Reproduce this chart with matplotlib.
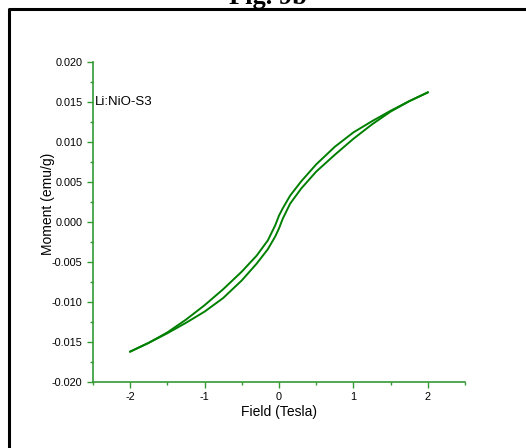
import numpy as np
import matplotlib.pyplot as plt
from matplotlib.lines import Line2D
from matplotlib.ticker import MultipleLocator

plt.rcParams['font.family'] = ['Liberation Sans', 'DejaVu Sans']

# descending branch (from +2 T down to -2 T)
field_down = [2.0, 1.75, 1.5, 1.25, 1.0, 0.75, 0.5, 0.3, 0.15, 0.05, 0.0,
              -0.05, -0.15, -0.3, -0.5, -0.75, -1.0, -1.25, -1.5, -1.75, -2.0]
moment_down = [0.0162, 0.0151, 0.0139, 0.0126, 0.0112, 0.0094, 0.0072, 0.0051,
               0.0033, 0.0017, 0.0008, -0.0004, -0.0023, -0.0042, -0.0062,
               -0.0084, -0.0104, -0.0122, -0.0138, -0.0151, -0.0162]

# ascending branch (from -2 T back up to +2 T)
field_up = [-2.0, -1.75, -1.5, -1.25, -1.0, -0.75, -0.5, -0.3, -0.15, -0.05, 0.0,
            0.05, 0.15, 0.3, 0.5, 0.75, 1.0, 1.25, 1.5, 1.75, 2.0]
moment_up = [-0.0162, -0.0151, -0.0139, -0.0126, -0.0112, -0.0095, -0.0073,
             -0.0052, -0.0034, -0.0018, -0.0008, 0.0004, 0.0023, 0.0042,
             0.0063, 0.0084, 0.0104, 0.0122, 0.0138, 0.0151, 0.0162]

sample_label = 'Li:NiO-S3'

fig = plt.figure(figsize=(5.26, 4.48), dpi=100)
ax = fig.add_axes([0.1768, 0.1473, 0.7072, 0.7143])

line_col = '#008000'
axis_col = '#339933'

ax.plot(field_down, moment_down, color=line_col, lw=1.4)
ax.plot(field_up, moment_up, color=line_col, lw=1.4)

ax.set_xlim(-2.5, 2.5)
ax.set_ylim(-0.020, 0.020)
ax.xaxis.set_major_locator(MultipleLocator(1))
ax.xaxis.set_minor_locator(MultipleLocator(0.5))
ax.yaxis.set_major_locator(MultipleLocator(0.005))
ax.yaxis.set_minor_locator(MultipleLocator(0.0025))
ax.yaxis.set_major_formatter(plt.FuncFormatter(lambda v, p: f'{v:.3f}'))
ax.xaxis.set_major_formatter(plt.FuncFormatter(lambda v, p: f'{v:.0f}'))

for s in ['top', 'right']:
    ax.spines[s].set_visible(False)
for s in ['left', 'bottom']:
    ax.spines[s].set_color(axis_col)
    ax.spines[s].set_linewidth(1.2)

ax.tick_params(which='major', direction='out', length=4.5, width=1.0,
               color=axis_col, labelsize=7.8, pad=3)
ax.tick_params(which='minor', direction='out', length=2.5, width=1.0,
               color=axis_col)

ax.set_xlabel('Field (Tesla)', fontsize=10, labelpad=2)
ax.set_ylabel('Moment (emu/g)', fontsize=10)
ax.yaxis.set_label_coords(-0.102, 0.556)

ax.text(-2.47, 0.015, sample_label, fontsize=9.5, va='center', ha='left')

# frame around the figure panel
fig.add_artist(Line2D([9 / 526, 9 / 526, 1.0], [0.0, 1 - 9 / 448, 1 - 9 / 448],
                      transform=fig.transFigure, color='black', lw=2.2))
fig.text(268 / 526, 1 - 4 / 448, 'Fig. 9b', ha='center', va='baseline',
         fontsize=19, fontweight='bold', family=['Liberation Serif', 'DejaVu Serif'])

plt.savefig('out.png', dpi=100)
